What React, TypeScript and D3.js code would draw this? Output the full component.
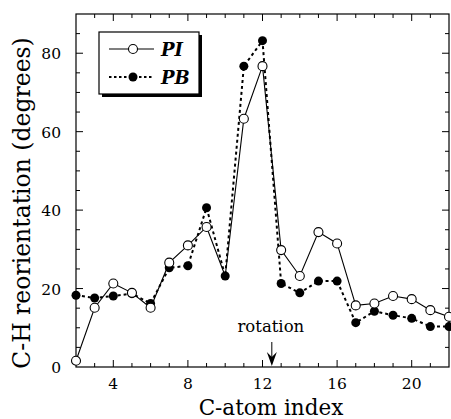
import React, { useRef, useEffect } from 'react';
import * as d3 from 'd3';

const carbons = [2, 3, 4, 5, 6, 7, 8, 9, 10, 11, 12, 13, 14, 15, 16, 17, 18, 19, 20, 21, 22];
const piValues = [1.6, 15.1, 21.3, 18.9, 15.1, 26.6, 31.0, 35.7, 23.2, 63.3, 76.7, 29.8, 23.2, 34.4, 31.5, 15.7, 16.2, 18.1, 17.3, 14.5, 12.8];
const pbValues = [18.3, 17.6, 18.1, 18.7, 16.2, 25.3, 25.8, 40.6, 23.2, 76.7, 83.2, 21.3, 18.9, 21.9, 21.9, 11.3, 14.2, 13.2, 12.4, 10.3, 10.3];
const xTickLabels = [4, 8, 12, 16, 20];
const yTickLabels = [0, 20, 40, 60, 80];
const rotationAt = 12.5;

const W = 451;
const H = 419;

export default function App() {
  const svgRef = useRef(null);

  useEffect(() => {
    const svg = d3.select(svgRef.current);
    svg.selectAll('*').remove();

    const margin = { top: 14, right: 2, bottom: 52, left: 76 };
    const width = W - margin.left - margin.right;
    const height = H - margin.top - margin.bottom;
    const font = "'DejaVu Serif', serif";

    const x = d3.scaleLinear().domain([2, 22]).range([0, width]);
    const y = d3.scaleLinear().domain([0, 90]).range([height, 0]);

    const g = svg.append('g').attr('transform', `translate(${margin.left},${margin.top})`);

    // frame
    g.append('rect')
      .attr('width', width).attr('height', height)
      .attr('fill', 'none').attr('stroke', '#000').attr('stroke-width', 1.2);

    // inward ticks on all four sides
    const xMinor = d3.range(3, 22, 1);
    const yMinor = d3.range(5, 90, 5);
    xMinor.forEach(v => {
      const len = v % 4 === 0 ? 7 : 4;
      g.append('line').attr('x1', x(v)).attr('x2', x(v)).attr('y1', height).attr('y2', height - len).attr('stroke', '#000');
      g.append('line').attr('x1', x(v)).attr('x2', x(v)).attr('y1', 0).attr('y2', len).attr('stroke', '#000');
    });
    yMinor.forEach(v => {
      const len = v % 20 === 0 ? 7 : 4;
      g.append('line').attr('y1', y(v)).attr('y2', y(v)).attr('x1', 0).attr('x2', len).attr('stroke', '#000');
      g.append('line').attr('y1', y(v)).attr('y2', y(v)).attr('x1', width).attr('x2', width - len).attr('stroke', '#000');
    });

    g.selectAll('.xl').data(xTickLabels).enter().append('text')
      .attr('x', d => x(d)).attr('y', height + 22)
      .attr('text-anchor', 'middle').attr('font-family', font).attr('font-size', 15.5)
      .text(d => d);
    g.selectAll('.yl').data(yTickLabels).enter().append('text')
      .attr('x', -15).attr('y', d => y(d) + 6)
      .attr('text-anchor', 'end').attr('font-family', font).attr('font-size', 15.5)
      .text(d => d);

    // axis titles
    svg.append('text')
      .attr('x', 271).attr('y', H - 4)
      .attr('text-anchor', 'middle').attr('font-family', font).attr('font-size', 21.5)
      .text('C-atom index');
    svg.append('text')
      .attr('transform', 'translate(30,203) rotate(-90)')
      .attr('text-anchor', 'middle').attr('font-family', font).attr('font-size', 23.5)
      .text('C-H reorientation (degrees)');

    const line = d3.line<number>().x((d, i) => x(carbons[i])).y(d => y(d));

    g.append('path').datum(pbValues).attr('d', line)
      .attr('fill', 'none').attr('stroke', '#000').attr('stroke-width', 2).attr('stroke-dasharray', '3,3');
    g.append('path').datum(piValues).attr('d', line)
      .attr('fill', 'none').attr('stroke', '#000').attr('stroke-width', 1.1);

    g.selectAll('.pb').data(pbValues).enter().append('circle')
      .attr('cx', (d, i) => x(carbons[i])).attr('cy', d => y(d)).attr('r', 4.5).attr('fill', '#000');
    g.selectAll('.pi').data(piValues).enter().append('circle')
      .attr('cx', (d, i) => x(carbons[i])).attr('cy', d => y(d)).attr('r', 4.5)
      .attr('fill', '#fff').attr('stroke', '#000').attr('stroke-width', 1.1)
      .filter((d, i) => carbons[i] === 10).remove();

    // rotation marker
    const ax = x(rotationAt);
    g.append('text')
      .attr('x', ax - 1).attr('y', height - 35)
      .attr('text-anchor', 'middle').attr('font-family', font).attr('font-size', 16.5)
      .text('rotation');
    g.append('line')
      .attr('x1', ax).attr('x2', ax)
      .attr('y1', height - 25).attr('y2', height - 4)
      .attr('stroke', '#000').attr('stroke-width', 1);
    g.append('path')
      .attr('d', `M${ax - 5},${height - 15} L${ax},${height - 1} L${ax + 5},${height - 15} L${ax},${height - 10} Z`)
      .attr('fill', '#000');

    // legend
    const lg = svg.append('g').attr('transform', 'translate(99,32)');
    lg.append('rect').attr('x', 3).attr('y', 3).attr('width', 100).attr('height', 62).attr('fill', '#000');
    lg.append('rect').attr('x', 0).attr('y', 0).attr('width', 100).attr('height', 62)
      .attr('fill', '#fff').attr('stroke', '#000').attr('stroke-width', 1.2);
    lg.append('line').attr('x1', 10).attr('x2', 55).attr('y1', 17).attr('y2', 17).attr('stroke', '#000').attr('stroke-width', 1.1);
    lg.append('circle').attr('cx', 34).attr('cy', 17).attr('r', 4.5).attr('fill', '#fff').attr('stroke', '#000').attr('stroke-width', 1.1);
    lg.append('line').attr('x1', 10).attr('x2', 55).attr('y1', 45).attr('y2', 45).attr('stroke', '#000').attr('stroke-width', 2).attr('stroke-dasharray', '2.5,2.5');
    lg.append('circle').attr('cx', 34).attr('cy', 45).attr('r', 4.5).attr('fill', '#000');
    lg.append('text').attr('x', 62).attr('y', 24).attr('font-family', font).attr('font-size', 18)
      .attr('font-weight', 'bold').attr('font-style', 'italic').text('PI');
    lg.append('text').attr('x', 62).attr('y', 52).attr('font-family', font).attr('font-size', 18)
      .attr('font-weight', 'bold').attr('font-style', 'italic').text('PB');
  }, []);

  return (
    <svg ref={svgRef} width={W} height={H} style={{ position: 'absolute', left: 0, top: 0, background: '#fff' }} />
  );
}
